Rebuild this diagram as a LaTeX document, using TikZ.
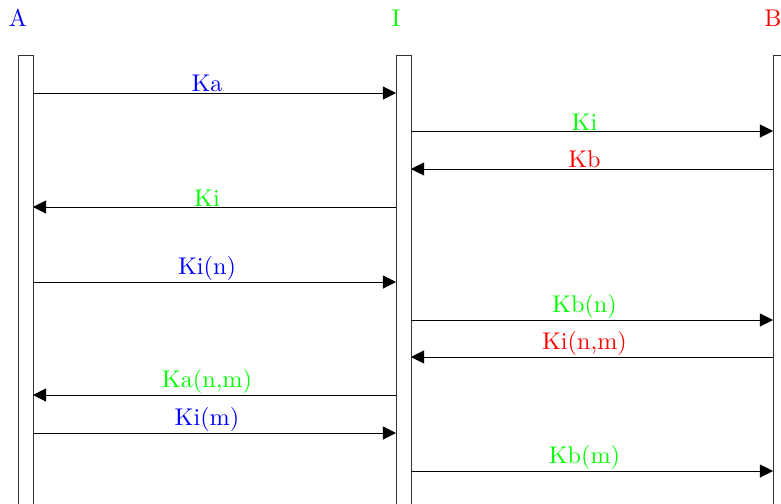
\documentclass[tikz,border=0pt]{standalone}
\usetikzlibrary{arrows.meta}
\definecolor{pgreen}{RGB}{0,255,0}
\definecolor{pblue}{RGB}{0,0,255}
\definecolor{pred}{RGB}{255,0,0}
\begin{document}
\begin{tikzpicture}[x=0.413pt, y=-0.413pt,
  lifeline/.style={draw=black!80, line width=0.4pt},
  msg/.style={draw=black, line width=0.4pt, -{Triangle[length=5.4pt,width=5.4pt]}},
  msglabel/.style={anchor=south, inner sep=0.2pt},
  actor/.style={anchor=center, inner sep=0pt}]
\useasboundingbox (0,0) rectangle (781,503);
\clip (0,0) rectangle (781,503);
% actors
\node[actor, text=pblue] (A) at (18,18) {A};
\node[actor, text=pgreen] (I) at (396,18) {I};
\node[actor, text=pred] (B) at (773,18) {B};
% lifelines
\draw[lifeline] (18,520) -- (18,55) -- (33,55) -- (33,520);
\draw[lifeline] (396,520) -- (396,55) -- (411,55) -- (411,520);
\draw[lifeline] (773,520) -- (773,55) -- (788,55) -- (788,520);
% row coordinates
\foreach \n/\y in {1/93,2/131,3/169,4/207,6/282,7/320,8/357,9/395,10/433,11/471}{
  \coordinate (aR\n) at (33,\y);
  \coordinate (iL\n) at (396,\y);
  \coordinate (iR\n) at (411,\y);
  \coordinate (bL\n) at (773,\y);
  \coordinate (mAI\n) at (207,\y);
  \coordinate (mIB\n) at (584.5,\y);
}
% messages
\draw[msg] (aR1) -- (iL1);
\node[msglabel, text=pblue] (l1) at (mAI1) {Ka};
\draw[msg] (iR2) -- (bL2);
\node[msglabel, text=pgreen] (l2) at (mIB2) {Ki};
\draw[msg] (bL3) -- (iR3);
\node[msglabel, text=pred] (l3) at (mIB3) {Kb};
\draw[msg] (iL4) -- (aR4);
\node[msglabel, text=pgreen] (l4) at (mAI4) {Ki};
\draw[msg] (aR6) -- (iL6);
\node[msglabel, text=pblue] (l6) at (mAI6) {Ki(n)};
\draw[msg] (iR7) -- (bL7);
\node[msglabel, text=pgreen] (l7) at (mIB7) {Kb(n)};
\draw[msg] (bL8) -- (iR8);
\node[msglabel, text=pred] (l8) at (mIB8) {Ki(n,m)};
\draw[msg] (iL9) -- (aR9);
\node[msglabel, text=pgreen] (l9) at (mAI9) {Ka(n,m)};
\draw[msg] (aR10) -- (iL10);
\node[msglabel, text=pblue] (l10) at (mAI10) {Ki(m)};
\draw[msg] (iR11) -- (bL11);
\node[msglabel, text=pgreen] (l11) at (mIB11) {Kb(m)};
\end{tikzpicture}
\end{document}
